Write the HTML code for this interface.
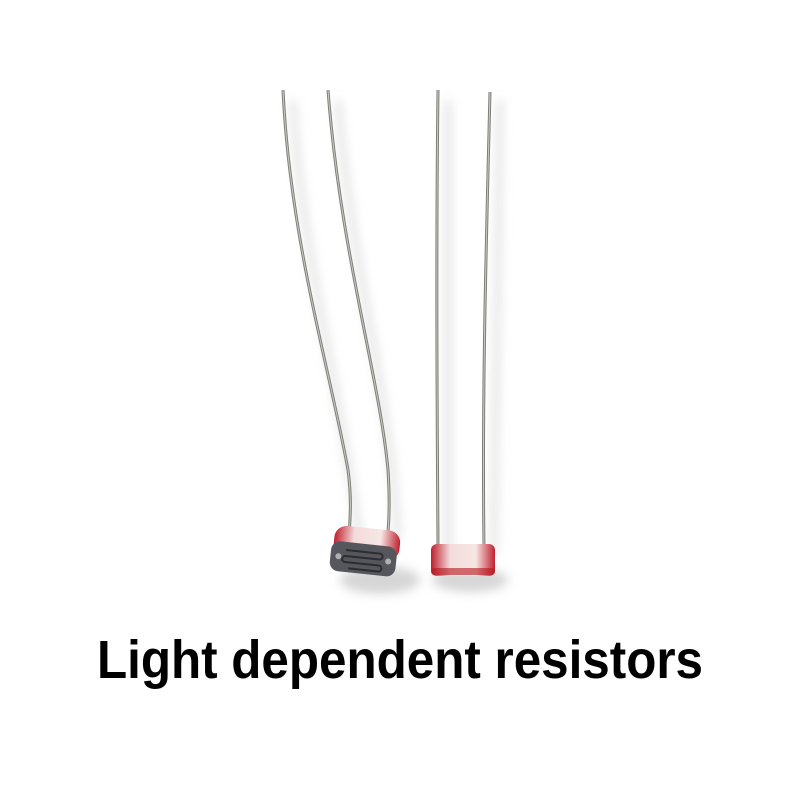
<!DOCTYPE html>
<html><head><style>html,body{margin:0;padding:0;background:#fff}</style></head>
<body>
<svg width="800" height="800" viewBox="0 0 800 800" xmlns="http://www.w3.org/2000/svg">
<defs>
<filter id="sh" x="-50%" y="-50%" width="200%" height="200%"><feGaussianBlur stdDeviation="5"/></filter>
<linearGradient id="red" x1="0" x2="1"><stop offset="0" stop-color="#c0202e"/><stop offset="0.3" stop-color="#f3dcdc"/><stop offset="0.7" stop-color="#f6e6e4"/><stop offset="1" stop-color="#c0202e"/></linearGradient>
</defs>
<rect width="800" height="800" fill="#fff"/>
<!-- shadows -->
<g stroke="#d8d8d8" stroke-width="6" fill="none" filter="url(#sh)" opacity="0.8">
<path d="M293 100 C 300 250, 340 380, 360 545"/>
<path d="M338 100 C 350 260, 390 390, 398 540"/>
<path d="M448 100 L 448 555"/>
<path d="M500 100 L 494 555"/>
<ellipse cx="380" cy="580" rx="40" ry="14" fill="#ccc" stroke="none"/>
<ellipse cx="470" cy="580" rx="38" ry="12" fill="#ccc" stroke="none"/>
</g>
<!-- wires -->
<g stroke="#7c8078" stroke-width="3" fill="none">
<path d="M283 90 C 290 240, 330 370, 348 470 C 352 500, 350 520, 349 535"/>
<path d="M328 90 C 340 250, 380 380, 388 470 C 390 500, 389 520, 388 532"/>
<path d="M438 90 C 436 250, 437 400, 438 548"/>
<path d="M490 92 C 486 250, 482 400, 484 548"/>
</g>
<g stroke="#c8cbc4" stroke-width="1" fill="none">
<path d="M283 90 C 290 240, 330 370, 348 470 C 352 500, 350 520, 349 535"/>
<path d="M328 90 C 340 250, 380 380, 388 470 C 390 500, 389 520, 388 532"/>
<path d="M438 90 C 436 250, 437 400, 438 548"/>
<path d="M490 92 C 486 250, 482 400, 484 548"/>
</g>
<!-- left LDR -->
<g transform="rotate(6 365 552)">
<rect x="333" y="528" width="66" height="30" rx="12" fill="url(#red)"/>
<rect x="331" y="544" width="66" height="30" rx="9" fill="#56575c"/>
<path d="M346 552 h34 a3 3 0 0 1 0 6 h-34 a3 3 0 0 0 0 6 h34 a3 3 0 0 1 0 6 h-30" stroke="#2d2c30" stroke-width="2" fill="none"/>
<circle cx="339" cy="559" r="3" fill="#b0b0b0"/>
<circle cx="389" cy="559" r="3" fill="#b0b0b0"/>
</g>
<!-- right LDR -->
<rect x="431" y="544" width="64" height="32" rx="6" fill="url(#red)"/>
<rect x="431" y="568" width="64" height="7" rx="3" fill="#b5161e" opacity="0.6"/>
<text x="97" y="678" font-family="Liberation Sans, sans-serif" font-weight="bold" font-size="54" textLength="606" lengthAdjust="spacingAndGlyphs" fill="#000">Light dependent resistors</text>
</svg>
</body></html>
